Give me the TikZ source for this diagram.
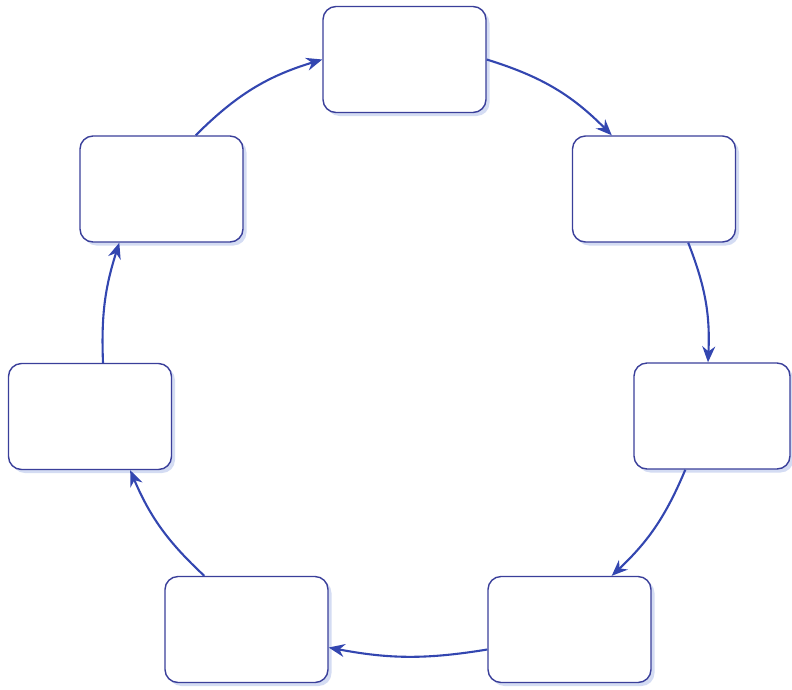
\documentclass[tikz,border=0pt]{standalone}
\usetikzlibrary{arrows.meta,shadows}
\definecolor{boxline}{HTML}{3A3F9A}
\definecolor{arrowcol}{HTML}{3346B0}
\definecolor{shadowcol}{HTML}{C9D3F0}
\begin{document}
\begin{tikzpicture}[x=1pt,y=-1pt,
  stagebox/.style={draw=boxline, line width=1.4pt, fill=white, rounded corners=13pt,
    minimum width=163pt, minimum height=106pt, inner sep=0pt,
    drop shadow={shadow xshift=3.5pt, shadow yshift=-3.5pt, fill=shadowcol, opacity=0.8}},
  flow/.style={draw=arrowcol, line width=2.1pt, -{Stealth[length=16pt,width=13pt]}, bend left=#1},
  flow/.default=14]
\useasboundingbox (0,0) rectangle (792,689);
\node[stagebox] (top) at (404.5,59.5) {};
\node[stagebox] (ru) at (654,189) {};
\node[stagebox, minimum width=156pt] (r) at (712,416) {};
\node[stagebox] (br) at (569.5,629.5) {};
\node[stagebox] (bl) at (246.5,629.5) {};
\node[stagebox] (l) at (90,416.5) {};
\node[stagebox] (lu) at (161.5,189) {};
\draw[flow=14] (top.east) to ([xshift=40pt]ru.north west);
\draw[flow=12] ([xshift=-48pt]ru.south east) to ([xshift=-4pt]r.north);
\draw[flow=12] ([xshift=52pt]r.south west) to ([xshift=-40pt]br.north east);
\draw[flow=10] ([yshift=-20pt]br.west) to ([yshift=-18pt]bl.east);
\draw[flow=12] ([xshift=40pt]bl.north west) to ([xshift=-42pt]l.south east);
\draw[flow=10] ([xshift=13pt]l.north) to ([xshift=40pt]lu.south west);
\draw[flow=14] ([xshift=-48pt]lu.north east) to (top.west);
\end{tikzpicture}
\end{document}
